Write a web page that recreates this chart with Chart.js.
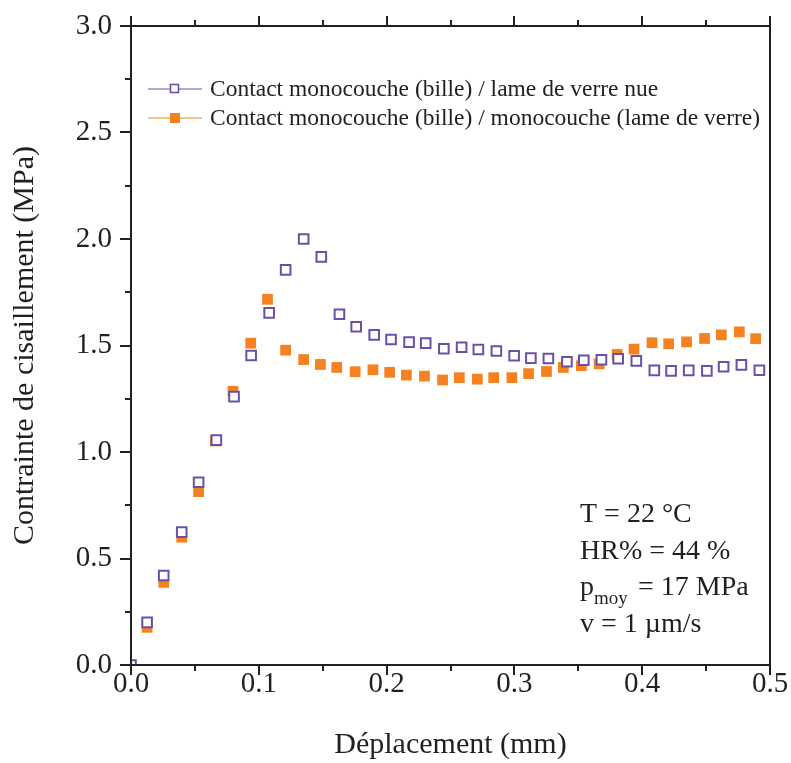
<!DOCTYPE html>
<html>
<head>
<meta charset="utf-8">
<script src="https://cdn.jsdelivr.net/npm/chart.js@4/dist/chart.umd.min.js"></script>
<style>
  html, body { margin: 0; padding: 0; background: #fff; }
  #wrap { width: 791px; height: 763px; }
</style>
</head>
<body>
<div id="wrap"><canvas id="shearChart" width="791" height="763"></canvas></div>
<script>
// Déplacement (mm) / contrainte (MPa)
const bareX = [0, 0.0126, 0.0256, 0.0397, 0.0529, 0.0668, 0.0806, 0.0940, 0.1081, 0.1210, 0.1351, 0.1489, 0.1631, 0.1762, 0.1903, 0.2035, 0.2176, 0.2306, 0.2448, 0.2587, 0.2718, 0.2859, 0.2998, 0.3129, 0.3266, 0.3411, 0.3543, 0.3681, 0.3812, 0.3954, 0.4095, 0.4226, 0.4364, 0.4506, 0.4637, 0.4776, 0.4917];
const bareY = [0, 0.20, 0.42, 0.624, 0.858, 1.056, 1.26, 1.453, 1.653, 1.855, 2.0, 1.916, 1.647, 1.588, 1.550, 1.528, 1.516, 1.511, 1.485, 1.492, 1.481, 1.474, 1.452, 1.441, 1.439, 1.424, 1.431, 1.433, 1.438, 1.428, 1.383, 1.381, 1.383, 1.381, 1.400, 1.409, 1.384];

const monoX = [0.0126, 0.0256, 0.0397, 0.0529, 0.0660, 0.0798, 0.0937, 0.1068, 0.1210, 0.1351, 0.1482, 0.1610, 0.1754, 0.1893, 0.2024, 0.2155, 0.2296, 0.2438, 0.2569, 0.2710, 0.2838, 0.2980, 0.3111, 0.3251, 0.3383, 0.3524, 0.3663, 0.3804, 0.3936, 0.4077, 0.4207, 0.4347, 0.4488, 0.4619, 0.4760, 0.4888];
const monoY = [0.177, 0.388, 0.60, 0.814, 1.052, 1.285, 1.511, 1.717, 1.478, 1.434, 1.411, 1.397, 1.377, 1.386, 1.374, 1.361, 1.356, 1.338, 1.349, 1.342, 1.349, 1.349, 1.368, 1.378, 1.397, 1.405, 1.414, 1.458, 1.483, 1.513, 1.508, 1.517, 1.533, 1.550, 1.564, 1.532];

const seriesLabels = [
  'Contact monocouche (bille) / lame de verre nue',
  'Contact monocouche (bille) / monocouche (lame de verre)'
];
const xTicks = [0, 0.1, 0.2, 0.3, 0.4, 0.5];
const yTicks = [0, 0.5, 1.0, 1.5, 2.0, 2.5, 3.0];

const PURPLE = '#6b50a8';
const ORANGE = '#f5821f';
const INK = '#231f20';
const SERIF = '"Liberation Serif", "Times New Roman", serif';

const toPoints = (xs, ys) => xs.map((x, i) => ({ x, y: ys[i] }));

// box + minor/major tick marks (outside), drawn on top
const framePlugin = {
  id: 'frame',
  afterDraw(chart) {
    const { ctx, chartArea: a, scales: { x, y } } = chart;
    ctx.save();
    ctx.strokeStyle = INK;
    ctx.lineWidth = 2;
    ctx.strokeRect(a.left, a.top, a.right - a.left, a.bottom - a.top);
    ctx.beginPath();
    for (let i = 0; i <= 10; i++) {
      const px = Math.round(x.getPixelForValue(i * 0.05));
      const len = i % 2 === 0 ? 10 : 6;
      ctx.moveTo(px, a.bottom); ctx.lineTo(px, a.bottom + len);
      ctx.moveTo(px, a.top); ctx.lineTo(px, a.top - len);
    }
    for (let i = 0; i <= 12; i++) {
      const py = Math.round(y.getPixelForValue(i * 0.25));
      const len = i % 2 === 0 ? 11 : 6;
      ctx.moveTo(a.left, py); ctx.lineTo(a.left - len, py);
    }
    ctx.stroke();
    ctx.restore();
  }
};

// legend (line-marker-line) and conditions text
const notesPlugin = {
  id: 'notes',
  afterDraw(chart) {
    const { ctx } = chart;
    ctx.save();
    const rows = [
      { y: 89, color: PURPLE, filled: false },
      { y: 118, color: ORANGE, filled: true }
    ];
    ctx.font = '23.5px ' + SERIF;
    ctx.textBaseline = 'middle';
    rows.forEach((r, i) => {
      ctx.strokeStyle = r.color;
      ctx.lineWidth = 1.2;
      ctx.beginPath();
      ctx.moveTo(148, r.y); ctx.lineTo(202, r.y);
      ctx.stroke();
      if (r.filled) {
        ctx.fillStyle = r.color;
        ctx.fillRect(170, r.y - 5, 10, 10);
      } else {
        ctx.fillStyle = '#fff';
        ctx.fillRect(170, r.y - 5, 9, 9);
        ctx.lineWidth = 1.6;
        ctx.strokeRect(170.5, r.y - 4.5, 8, 8);
      }
      ctx.fillStyle = INK;
      ctx.fillText(seriesLabels[i], 210, r.y + 1);
    });

    ctx.font = '28px ' + SERIF;
    ctx.fillStyle = INK;
    ctx.textBaseline = 'alphabetic';
    ctx.fillText('T = 22 °C', 580, 522);
    ctx.fillText('HR% = 44 %', 580, 559);
    ctx.fillText('p', 580, 595);
    ctx.font = '19px ' + SERIF;
    ctx.fillText('moy', 594, 604);
    ctx.font = '28px ' + SERIF;
    ctx.fillText('= 17 MPa', 638, 595);
    ctx.fillText('v = 1 µm/s', 580, 632);
    ctx.restore();
  }
};

const ctx = document.getElementById('shearChart').getContext('2d');
window.shearChart = new Chart(ctx, {
  type: 'scatter',
  data: {
    datasets: [
      {
        label: seriesLabels[0],
        data: toPoints(bareX, bareY),
        pointStyle: 'rect',
        pointRadius: 6.8,
        pointBorderWidth: 2,
        pointBorderColor: PURPLE,
        pointBackgroundColor: '#fff',
        borderColor: PURPLE,
        backgroundColor: '#fff',
        showLine: false,
        clip: 0
      },
      {
        label: seriesLabels[1],
        data: toPoints(monoX, monoY),
        pointStyle: 'rect',
        pointRadius: 7.6,
        pointBorderWidth: 0,
        pointBackgroundColor: ORANGE,
        borderColor: ORANGE,
        backgroundColor: ORANGE,
        showLine: false,
        clip: 0
      }
    ]
  },
  options: {
    responsive: false,
    animation: false,
    layout: { padding: { top: 26, right: 21, left: 0, bottom: 0 } },
    plugins: { legend: { display: false }, tooltip: { enabled: false } },
    scales: {
      x: {
        type: 'linear',
        min: 0,
        max: 0.5,
        afterFit: s => { s.height = 98; s.paddingLeft = 0; s.paddingRight = 0; },
        afterBuildTicks: s => { s.ticks = xTicks.map(v => ({ value: v })); },
        grid: { display: false, drawTicks: false },
        border: { display: false },
        ticks: {
          padding: 2,
          color: INK,
          font: { family: SERIF, size: 29 },
          maxRotation: 0,
          callback: v => v.toFixed(1)
        },
        title: {
          display: true,
          text: 'Déplacement (mm)',
          color: INK,
          font: { family: SERIF, size: 30 },
          padding: 0
        }
      },
      y: {
        type: 'linear',
        min: 0,
        max: 3,
        afterFit: s => { s.width = 131; s.paddingTop = 0; s.paddingBottom = 0; },
        afterBuildTicks: s => { s.ticks = yTicks.map(v => ({ value: v })); },
        grid: { display: false, drawTicks: false },
        border: { display: false },
        ticks: {
          padding: 19,
          color: INK,
          font: { family: SERIF, size: 29 },
          callback: v => v.toFixed(1)
        },
        title: {
          display: true,
          text: 'Contrainte de cisaillement (MPa)',
          color: INK,
          font: { family: SERIF, size: 30 },
          padding: 7
        }
      }
    }
  },
  plugins: [framePlugin, notesPlugin]
});
</script>
</body>
</html>
